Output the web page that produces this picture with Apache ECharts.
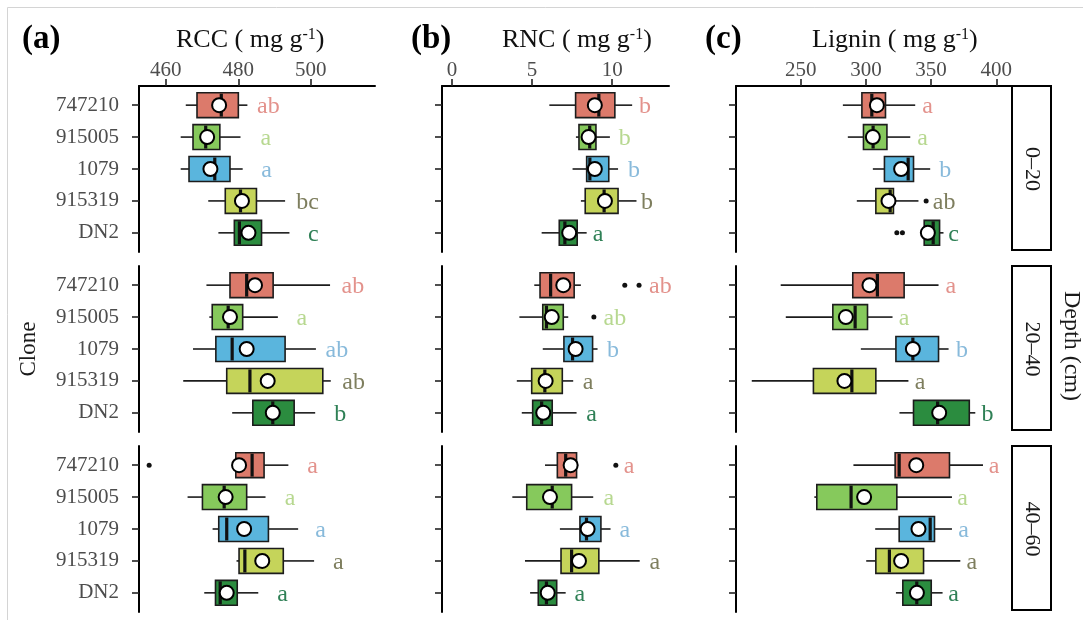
<!DOCTYPE html>
<html>
<head>
<meta charset="utf-8">
<script src="https://cdn.jsdelivr.net/npm/echarts@6/dist/echarts.min.js"></script>
<style>
  html, body { margin: 0; padding: 0; background: #ffffff; }
  #chart { width: 1083px; height: 620px; }
</style>
</head>
<body>
<div id="chart"></div>
<script>
// Clones (top to bottom in every panel) and soil depth layers
const clones = ['747210', '915005', '1079', '915319', 'DN2'];
const depths = ['0\u201320', '20\u201340', '40\u201360'];

// Tick values of the three x axes
const rccTicks = [460, 480, 500];
const rncTicks = [0, 5, 10];
const ligninTicks = [250, 300, 350, 400];

// Box statistics per depth: [lower whisker, Q1, median, Q3, upper whisker] per clone
const rccBox = [
  [[465.5, 468.6, 475.3, 480.0, 482.5], [464.1, 467.5, 471.0, 474.9, 480.6], [464.1, 466.4, 473.5, 477.7, 481.2], [471.7, 476.4, 480.6, 485.0, 492.9], [474.5, 478.9, 480.3, 486.4, 494.1]],
  [[471.2, 477.7, 482.3, 489.6, 505.3], [472.0, 472.8, 477.2, 481.2, 490.9], [467.5, 473.8, 478.3, 492.9, 501.4], [464.8, 476.8, 483.2, 503.3, 505.5], [478.3, 484.0, 489.5, 495.4, 501.2]],
  [[479.3, 479.3, 483.8, 487.1, 493.8], [466.0, 470.1, 476.1, 482.3, 487.5], [472.9, 474.6, 476.8, 488.3, 496.5], [479.5, 480.2, 481.8, 492.4, 500.9], [470.6, 473.7, 475.0, 479.7, 485.5]]
];
const rncBox = [
  [[6.08, 7.72, 9.17, 10.17, 11.25], [7.74, 7.93, 8.60, 8.99, 9.86], [7.53, 8.41, 8.61, 9.79, 10.37], [8.05, 8.32, 9.50, 10.37, 11.52], [5.60, 6.70, 7.05, 7.82, 8.41]],
  [[5.14, 5.50, 6.16, 7.63, 8.05], [4.21, 5.67, 5.90, 6.95, 7.26], [5.67, 6.99, 7.53, 8.78, 9.09], [4.05, 4.98, 5.80, 6.89, 7.57], [4.36, 5.04, 5.60, 6.26, 7.78]],
  [[5.81, 6.58, 7.10, 7.78, 7.88], [3.77, 4.67, 6.26, 7.47, 8.82], [6.74, 7.99, 8.40, 9.30, 9.90], [4.56, 6.81, 7.47, 9.17, 11.72], [4.88, 5.39, 5.90, 6.54, 7.10]]
];
const ligninBox = [
  [[282.3, 296.9, 304.5, 315.0, 337.8], [286.1, 298.1, 305.5, 316.1, 334.0], [305.3, 314.2, 332.4, 336.5, 349.3], [293.0, 307.6, 318.6, 321.1, 340.3], [344.7, 344.7, 351.6, 356.5, 359.5]],
  [[234.6, 289.9, 308.8, 329.3, 355.7], [238.5, 274.6, 291.7, 301.2, 320.4], [296.1, 323.0, 336.0, 355.7, 363.4], [212.4, 259.7, 289.2, 307.6, 332.6], [325.7, 336.5, 355.0, 379.3, 383.9]],
  [[290.4, 322.4, 325.5, 364.1, 389.8], [260.4, 262.3, 288.6, 323.7, 366.0], [307.1, 325.5, 349.3, 352.6, 366.0], [300.2, 307.6, 318.0, 344.2, 372.4], [323.0, 328.3, 339.0, 350.1, 358.8]]
];

// Means per depth and clone
const rccMean = [[474.7, 471.4, 472.3, 481.0, 482.8], [484.6, 477.7, 482.3, 488.1, 489.5], [480.2, 476.5, 481.6, 486.6, 476.8]];
const rncMean = [[8.92, 8.53, 8.92, 9.55, 7.32], [6.95, 6.23, 7.72, 5.85, 5.70], [7.41, 6.12, 8.47, 7.93, 5.98]];
const ligninMean = [[308.4, 305.3, 327.0, 317.3, 347.5], [302.7, 284.6, 336.0, 283.5, 356.2], [338.6, 298.6, 340.3, 327.0, 339.1]];

// Outliers per depth: [value, clone number (1-5)]
const rccOut = [[], [], [[455.4, 1]]];
const rncOut = [[], [[10.79, 1], [11.68, 1], [8.86, 2]], [[10.23, 1]]];
const ligninOut = [[[346.2, 4], [323.7, 5], [328.0, 5]], [], []];

// Significance letters per depth and clone, with their x value on the axis
const rccLetters = [['ab', 'a', 'a', 'bc', 'c'], ['ab', 'a', 'ab', 'ab', 'b'], ['a', 'a', 'a', 'a', 'a']];
const rccLetterX = [[488.3, 487.6, 487.8, 499.1, 500.7], [511.6, 497.5, 507.2, 511.8, 508.1], [500.5, 494.3, 502.7, 507.6, 492.2]];
const rncLetters = [['b', 'b', 'b', 'b', 'a'], ['ab', 'ab', 'b', 'a', 'a'], ['a', 'a', 'a', 'a', 'a']];
const rncLetterX = [[12.05, 10.79, 11.36, 12.18, 9.13], [13.01, 10.17, 10.06, 8.50, 8.72], [11.06, 9.79, 10.79, 12.66, 7.99]];
const ligninLetters = [['a', 'a', 'b', 'ab', 'c'], ['a', 'a', 'b', 'a', 'b'], ['a', 'a', 'a', 'a', 'a']];
const ligninLetterX = [[347.2, 343.4, 360.8, 360.0, 367.2], [365.2, 329.3, 373.7, 341.6, 393.3], [398.4, 374.1, 374.9, 381.3, 367.2]];

// ---- styling ----
const SERIF = '"Liberation Serif", "Times New Roman", serif';
const boxColors = ['#dc7a6b', '#86c95c', '#5ab5dd', '#c5d45a', '#2b8c3f'];
const letterColors = ['#e3928c', '#b7d890', '#88badb', '#7e7e5e', '#2f8056'];
const INK = '#1c1c1c';

const columns = [
  { left: 139, width: 236, min: 452.6, max: 517.7, ticks: rccTicks, box: rccBox, mean: rccMean, out: rccOut, letters: rccLetters, letterX: rccLetterX },
  { left: 442, width: 227, min: -0.62, max: 13.55, ticks: rncTicks, box: rncBox, mean: rncMean, out: rncOut, letters: rncLetters, letterX: rncLetterX },
  { left: 736, width: 275, min: 200.3, max: 411.3, ticks: ligninTicks, box: ligninBox, mean: ligninMean, out: ligninOut, letters: ligninLetters, letterX: ligninLetterX }
];
const rowTops = [86, 266, 446];
const rowHeight = 166;
const cloneNumbers = [1, 2, 3, 4, 5];

const grids = [], xAxes = [], yAxes = [], series = [];

function boxRenderer(params, api) {
  const pos = api.value(0);
  const lo = api.coord([api.value(1), pos]);
  const q1 = api.coord([api.value(2), pos]);
  const md = api.coord([api.value(3), pos]);
  const q3 = api.coord([api.value(4), pos]);
  const hi = api.coord([api.value(5), pos]);
  const band = Math.abs(api.size([0, 1])[1]);
  const h = band * 0.78;
  const cy = lo[1];
  const fill = boxColors[Math.round(pos) - 1];
  const wStyle = { stroke: INK, lineWidth: 1.6 };
  return {
    type: 'group',
    children: [
      { type: 'line', shape: { x1: lo[0], y1: cy, x2: q1[0], y2: cy }, style: wStyle },
      { type: 'line', shape: { x1: q3[0], y1: cy, x2: hi[0], y2: cy }, style: wStyle },
      { type: 'rect', shape: { x: q1[0], y: cy - h / 2, width: q3[0] - q1[0], height: h }, style: { fill: fill, stroke: INK, lineWidth: 1.6 } },
      { type: 'line', shape: { x1: md[0], y1: cy - h / 2 + 1, x2: md[0], y2: cy + h / 2 - 1 }, style: { stroke: '#111', lineWidth: 3.2 } }
    ]
  };
}

function letterRenderer(texts) {
  return function (params, api) {
    const pos = api.value(1);
    const p = api.coord([api.value(0), pos]);
    return {
      type: 'text',
      style: {
        text: texts[params.dataIndex],
        x: p[0], y: p[1] + 2,
        align: 'center', verticalAlign: 'middle',
        fill: letterColors[Math.round(pos) - 1],
        fontSize: 24, fontFamily: SERIF
      }
    };
  };
}

rowTops.forEach(function (top, d) {
  columns.forEach(function (col, c) {
    const gi = grids.length;
    grids.push({ left: col.left, top: top, width: col.width, height: rowHeight });
    xAxes.push({
      gridIndex: gi, type: 'value', position: 'top',
      min: col.min, max: col.max, show: d === 0,
      axisLine: { show: true, onZero: false, lineStyle: { color: '#000', width: 2 } },
      axisTick: { show: true, customValues: col.ticks, length: 7, lineStyle: { color: '#222', width: 1.6 } },
      axisLabel: { customValues: col.ticks, color: '#4d4d4d', fontFamily: SERIF, fontSize: 21, margin: 5 },
      splitLine: { show: false }
    });
    yAxes.push({
      gridIndex: gi, type: 'value', inverse: true, min: 0.4, max: 5.6,
      axisLine: { show: true, onZero: false, lineStyle: { color: '#000', width: 2 } },
      axisTick: { show: true, customValues: cloneNumbers, length: 7, lineStyle: { color: '#222', width: 1.6 } },
      axisLabel: {
        show: c === 0, customValues: cloneNumbers, color: '#4d4d4d', fontFamily: SERIF, fontSize: 21, margin: 20,
        formatter: function (v) { return clones[Math.round(v) - 1]; }
      },
      splitLine: { show: false }
    });

    series.push({
      type: 'custom', xAxisIndex: gi, yAxisIndex: gi, clip: false,
      renderItem: boxRenderer,
      encode: { x: [1, 2, 3, 4, 5], y: 0 },
      data: col.box[d].map(function (s, i) { return [i + 1].concat(s); }),
      z: 2
    });
    series.push({
      type: 'scatter', xAxisIndex: gi, yAxisIndex: gi,
      symbol: 'circle', symbolSize: 5,
      itemStyle: { color: '#111', opacity: 1 },
      data: col.out[d],
      z: 3
    });
    series.push({
      type: 'scatter', xAxisIndex: gi, yAxisIndex: gi,
      symbol: 'circle', symbolSize: 14,
      itemStyle: { color: '#ffffff', borderColor: '#000', borderWidth: 2, opacity: 1 },
      data: col.mean[d].map(function (m, i) { return [m, i + 1]; }),
      z: 4
    });
    series.push({
      type: 'custom', xAxisIndex: gi, yAxisIndex: gi, clip: false,
      renderItem: letterRenderer(col.letters[d]),
      encode: { x: 0, y: 1 },
      data: col.letterX[d].map(function (x, i) { return [x, i + 1]; }),
      z: 3
    });
  });
});

// Facet strips on the right with the depth labels
const graphics = [
  { type: 'rect', shape: { x: 7.5, y: 7.5, width: 1200, height: 800 }, style: { fill: 'none', stroke: '#d4d4d4', lineWidth: 1 }, silent: true }
];
rowTops.forEach(function (top, d) {
  graphics.push({ type: 'rect', shape: { x: 1012, y: top, width: 39, height: rowHeight - 2 }, style: { fill: '#fff', stroke: '#000', lineWidth: 2 } });
  graphics.push({
    type: 'text', x: 1032, y: top + rowHeight / 2, rotation: -Math.PI / 2,
    style: { text: depths[d], align: 'center', verticalAlign: 'middle', fontSize: 22, fontFamily: SERIF, fill: '#1a1a1a' }
  });
});

// Panel tags and axis titles
const tags = [['(a)', 22], ['(b)', 411], ['(c)', 705]];
tags.forEach(function (t) {
  graphics.push({ type: 'text', x: t[1], y: 39, style: { text: t[0], align: 'left', verticalAlign: 'middle', fontSize: 33, fontWeight: 'bold', fontFamily: SERIF, fill: '#000' } });
});
const titles = [['RCC', 176], ['RNC', 502], ['Lignin', 812]];
titles.forEach(function (t) {
  graphics.push({
    type: 'text', x: t[1], y: 40,
    style: {
      text: t[0] + ' ( mg g{sup|-1})', align: 'left', verticalAlign: 'middle',
      fontSize: 26, fontFamily: SERIF, fill: '#111',
      rich: { sup: { fontSize: 16, fontFamily: SERIF, fill: '#111', verticalAlign: 'bottom', padding: [0, 0, 11, 0] } }
    }
  });
});
graphics.push({ type: 'text', x: 29, y: 349, rotation: Math.PI / 2, style: { text: 'Clone', align: 'center', verticalAlign: 'middle', fontSize: 23, fontFamily: SERIF, fill: '#1a1a1a' } });
graphics.push({ type: 'text', x: 1071, y: 346, rotation: -Math.PI / 2, style: { text: 'Depth (cm)', align: 'center', verticalAlign: 'middle', fontSize: 24, fontFamily: SERIF, fill: '#1a1a1a' } });

const chart = echarts.init(document.getElementById('chart'), null, { renderer: 'canvas' });
chart.setOption({
  animation: false,
  backgroundColor: '#ffffff',
  grid: grids,
  xAxis: xAxes,
  yAxis: yAxes,
  series: series,
  graphic: graphics
});
</script>
</body>
</html>
